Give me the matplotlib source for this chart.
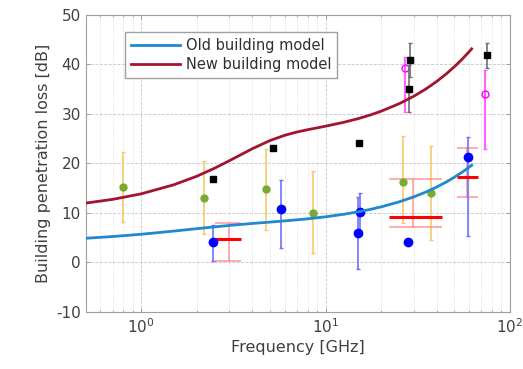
import numpy as np
import matplotlib
matplotlib.use("Agg")
import matplotlib.pyplot as plt
from matplotlib.ticker import LogLocator, LogFormatterMathtext, NullFormatter

# Building entry loss models (sampled), frequency in GHz
model_f = [0.5, 0.7, 1, 1.5, 2, 2.5, 3, 4, 5, 6, 7, 8, 10, 12.5, 15, 17.5,
           20, 25, 30, 35, 40, 45, 50, 55, 60, 62]
old_v = [4.89, 5.24, 5.70, 6.34, 6.83, 7.19, 7.48, 7.88, 8.16, 8.40, 8.62, 8.82,
         9.23, 9.73, 10.23, 10.73, 11.23, 12.23, 13.23, 14.23, 15.23, 16.23,
         17.23, 18.23, 19.23, 19.63]
new_v = [12.0, 12.75, 13.87, 15.69, 17.42, 19.05, 20.54, 22.97, 24.64, 25.69,
         26.36, 26.82, 27.53, 28.30, 29.05, 29.80, 30.55, 32.05, 33.55, 35.05,
         36.55, 38.05, 39.55, 41.05, 42.55, 43.15]

# measurement campaigns
green_f = [0.8, 2.2, 4.75, 8.5, 26.3, 37.3]
green_v = [15.3, 13.1, 14.8, 10.0, 16.3, 14.1]
green_lo = [8.2, 5.7, 6.5, 2.0, 8.0, 4.6]
green_hi = [22.4, 20.4, 22.9, 18.4, 25.6, 23.5]

blue_f = [2.44, 5.76, 15.3, 14.9, 27.9, 59.5]
blue_v = [4.1, 10.8, 10.1, 6.0, 4.1, 21.4]
blue_lo = [0.4, 3.0, 6.2, -1.3, 4.1, 5.3]
blue_hi = [7.6, 16.7, 14.0, 13.3, 4.1, 25.3]

black_f = [2.44, 5.2, 15.1, 28.8, 28.5, 74.8]
black_v = [16.9, 23.1, 24.1, 40.9, 35.1, 41.9]
black_lo = [16.9, 23.1, 24.1, 37.5, 30.4, 39.2]
black_hi = [16.9, 23.1, 24.1, 44.3, 39.8, 44.3]

mag_f = [27.1, 73.3]
mag_v = [39.2, 34.1]
mag_lo = [30.4, 22.9]
mag_hi = [41.6, 38.8]

# band measurements: frequency span, median and spread
band_f_lo = [2.5, 22.0, 51.7]
band_f_hi = [3.47, 42.9, 67.0]
band_f_mid = [2.99, 29.9, 58.5]
band_v = [4.7, 9.2, 17.3]
band_lo = [0.2, 7.1, 13.3]
band_hi = [8.0, 16.9, 23.2]

plt.rcParams['font.family'] = ['DejaVu Sans']
plt.rcParams['axes.unicode_minus'] = False
fig = plt.figure(figsize=(5.23, 3.69), dpi=100)
ax = fig.add_axes([0.164, 0.1545, 0.811, 0.805])


def yerr(v, lo, hi):
    v = np.array(v)
    return [v - np.array(lo), np.array(hi) - v]


ax.errorbar(green_f, green_v, yerr=yerr(green_v, green_lo, green_hi), fmt='o',
            color='#77AC30', ms=5, ecolor='#F5C96A', elinewidth=1.2,
            capsize=1.5, zorder=3)
ax.errorbar(blue_f, blue_v, yerr=yerr(blue_v, blue_lo, blue_hi), fmt='o',
            color='#0000FF', ms=6, ecolor='#7070FF', elinewidth=1.2,
            capsize=1.5, zorder=4)
ax.errorbar(black_f, black_v, yerr=yerr(black_v, black_lo, black_hi), fmt='s',
            color='black', ms=4.5, ecolor='#707070', elinewidth=1.2,
            capsize=1.5, zorder=4)
ax.errorbar(mag_f, mag_v, yerr=yerr(mag_v, mag_lo, mag_hi), fmt='o',
            color='#FF00FF', mfc='none', ms=5, ecolor='#FF66FF',
            elinewidth=1.5, capsize=1.5, zorder=3)

for i in range(len(band_v)):
    ax.hlines([band_lo[i], band_hi[i]], band_f_lo[i], band_f_hi[i],
              color='#FF8080', lw=1.3, alpha=0.7, zorder=3)
    ax.vlines(band_f_mid[i], band_lo[i], band_hi[i], color='#FF8080',
              lw=1.3, alpha=0.7, zorder=3)
    ax.hlines(band_v[i], band_f_lo[i], band_f_hi[i], color='#FF0000',
              lw=2.2, zorder=4)

ax.plot(model_f, old_v, color='#1f88cf', lw=2, label='Old building model', zorder=5)
ax.plot(model_f, new_v, color='#A2142F', lw=2, label='New building model', zorder=5)

ax.set_xscale('log')
ax.set_xlim(0.5, 100)
ax.set_ylim(-10, 50)
ax.set_yticks(range(-10, 51, 10))
ax.xaxis.set_major_locator(LogLocator(base=10))
ax.xaxis.set_major_formatter(LogFormatterMathtext())
ax.xaxis.set_minor_locator(LogLocator(base=10, subs=np.arange(2, 10)))
ax.xaxis.set_minor_formatter(NullFormatter())

ax.grid(True, which='major', ls='--', lw=0.6, color='#c8c8c8')
ax.grid(True, which='minor', axis='x', ls=':', lw=0.6, color='#d8d8d8')
ax.set_axisbelow(True)

for s in ax.spines.values():
    s.set_color('#a0a0a0')
ax.tick_params(which='both', direction='in', colors='#a0a0a0',
               labelcolor='#404040', labelsize=11, top=True, right=True)
ax.tick_params(which='major', length=3)
ax.tick_params(which='minor', length=1.5)

ax.set_xlabel('Frequency [GHz]', fontsize=11.5, color='#404040', labelpad=3)
ax.set_ylabel('Building penetration loss [dB]', fontsize=11.5, color='#404040',
              labelpad=4)

leg = ax.legend(loc='upper left', bbox_to_anchor=(0.092, 0.943), borderaxespad=0,
                fontsize=10.5, fancybox=False, edgecolor='#a0a0a0', framealpha=1,
                handlelength=3.4, handletextpad=0.4, labelspacing=0.3)
for t in leg.get_texts():
    t.set_color('#303030')

fig.savefig('out.png', dpi=100)
